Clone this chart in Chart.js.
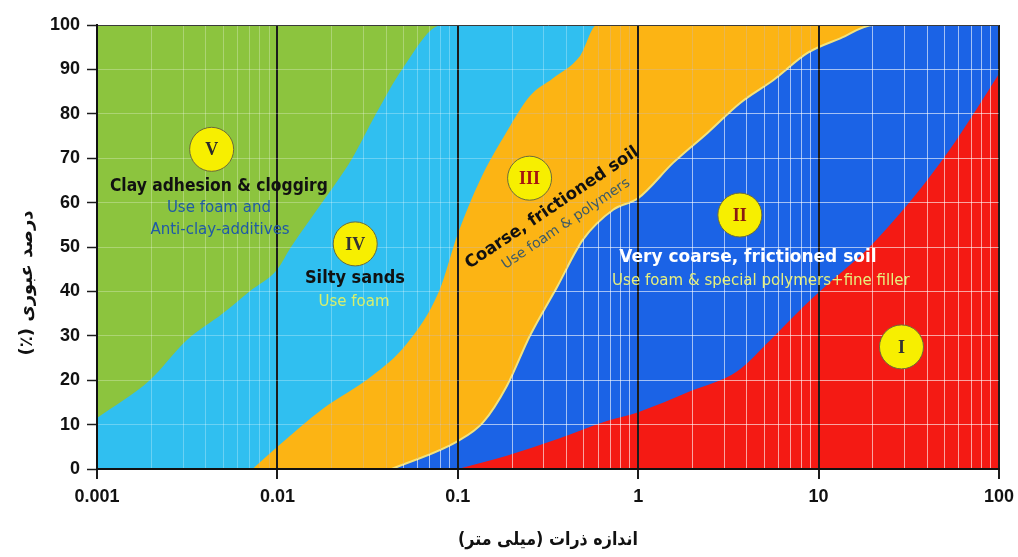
<!DOCTYPE html>
<html>
<head>
<meta charset="utf-8">
<script src="https://cdn.jsdelivr.net/npm/chart.js@4/dist/chart.umd.min.js"></script>
<style>
  html, body { margin: 0; padding: 0; background: #ffffff; }
  #wrap { width: 1018px; height: 557px; }
</style>
</head>
<body>
<div id="wrap"><canvas id="chart" width="1018" height="557"></canvas></div>
<script>
// Grain size (mm) on a log axis, percent passing on the vertical axis.
const decadeValues = [0.001, 0.01, 0.1, 1, 10, 100];
const decadeLabels = ['0.001', '0.01', '0.1', '1', '10', '100'];
const percentMin = 0;
const percentMax = 100;
const percentStep = 10;

// Upper edge of the chart (zone V fills everything above the first boundary)
const topEdgeX = [0.001, 100];
const topEdgeY = [100, 100];

// Boundary between zone V (clay) and zone IV (silty sands)
const boundaryVX = [0.001, 0.00196, 0.00314, 0.00497, 0.0070, 0.0100, 0.0119, 0.0177, 0.0260, 0.0352, 0.0491, 0.0817, 100];
const boundaryVY = [11.5, 20, 29, 35, 40, 45, 50, 60, 70, 80, 90, 100, 100];

// Boundary between zone IV and zone III (coarse soil)
const boundaryIVX = [0.00728, 0.0100, 0.0178, 0.0335, 0.0516, 0.0786, 0.100, 0.1325, 0.187, 0.251, 0.337, 0.476, 0.59, 100];
const boundaryIVY = [0, 5, 13.5, 21, 28, 40, 53, 65, 76, 84, 88, 93, 100, 100];

// Boundary between zone III and zone II (very coarse soil)
const boundaryIIIX = [0.0431, 0.100, 0.138, 0.187, 0.251, 0.355, 0.495, 0.726, 1.0, 1.565, 2.42, 3.69, 5.62, 8.68, 13.2, 20.2, 100];
const boundaryIIIY = [0, 6.3, 10.5, 18.7, 30, 41, 51.7, 58.4, 61, 69, 75.7, 82.5, 87.6, 93.7, 97, 100, 100];

// Boundary between zone II and zone I
const boundaryIIX = [0.100, 0.187, 0.354, 0.67, 1.0, 1.94, 3.54, 5.39, 8.2, 12.3, 18.1, 24.9, 36.5, 53.5, 73.6, 100];
const boundaryIIY = [0, 3, 6.7, 10.8, 12.8, 17.5, 22, 29, 36.5, 43, 49, 55, 63, 72, 80.5, 89];

const xTitle = 'اندازه ذرات (میلی متر)';
const yTitle = 'درصد عبوری (٪)';

const zoneColors = {
  V: '#8cc43e',
  IV: '#30bff0',
  III: '#fcb414',
  II: '#1b63e6',
  I: '#f41a14'
};

// Zone markers and captions, placed in data coordinates
const zoneBadges = [
  { text: 'V',   x: 0.00432, y: 72,   color: '#2a2a2a' },
  { text: 'IV',  x: 0.027,   y: 50.7, color: '#333333' },
  { text: 'III', x: 0.25,    y: 65.5, color: '#a5140f' },
  { text: 'II',  x: 3.66,    y: 57.2, color: '#8b1a10' },
  { text: 'I',   x: 28.8,    y: 27.5, color: '#333333' }
];

const zoneCaptions = [
  { text: 'Clay adhesion & cloggirg', x: 0.00474, y: 63.7, font: 'bold 17px "DejaVu Sans"', color: '#111111', w: 218, rot: 0 },
  { text: 'Use foam and', x: 0.00474, y: 58.8, font: '15px "DejaVu Sans"', color: '#1f5aa6', w: 106, rot: 0 },
  { text: 'Anti-clay-additives', x: 0.00481, y: 53.8, font: '15px "DejaVu Sans"', color: '#1f5aa6', w: 150, rot: 0 },
  { text: 'Silty sands', x: 0.0269, y: 42.8, font: 'bold 17px "DejaVu Sans"', color: '#111111', w: 100, rot: 0 },
  { text: 'Use foam', x: 0.0266, y: 37.6, font: '15px "DejaVu Sans"', color: '#d8ef6c', w: 76, rot: 0 },
  { text: 'Coarse, frictioned soil', x: 0.3326, y: 58.8, font: 'bold 17px "DejaVu Sans"', color: '#111111', w: 205, rot: -34 },
  { text: 'Use foam & polymers', x: 0.398, y: 55.2, font: '14px "DejaVu Sans"', color: '#3d5a66', w: 162, rot: -34 },
  { text: 'Very coarse, frictioned soil', x: 4.06, y: 47.7, font: 'bold 17px "DejaVu Sans"', color: '#ffffff', w: 273, rot: 0 },
  { text: 'Use foam & special polymers+fine filler', x: 4.79, y: 42.3, font: '15px "DejaVu Sans"', color: '#e6f07e', w: 302, rot: 0 }
];

function toPoints(xs, ys) {
  return xs.map((x, i) => ({ x: x, y: ys[i] }));
}

function isDecade(v) {
  return decadeValues.some(d => Math.abs(Math.log10(v) - Math.log10(d)) < 1e-6);
}

function decadeLabel(v) {
  const i = decadeValues.findIndex(d => Math.abs(Math.log10(v) - Math.log10(d)) < 1e-6);
  return i >= 0 ? decadeLabels[i] : '';
}

// Vertical grid: every integer multiple inside each decade
const xGridValues = [];
decadeValues.forEach((d, i) => {
  if (i === decadeValues.length - 1) { xGridValues.push(d); return; }
  for (let k = 1; k <= 9; k++) xGridValues.push(Number((d * k).toPrecision(6)));
});

function zoneDataset(label, xs, ys, color, order, extra) {
  return Object.assign({
    label: label,
    data: toPoints(xs, ys),
    parsing: false,
    fill: 'start',
    backgroundColor: color,
    borderColor: color,
    borderWidth: 0,
    pointRadius: 0,
    pointHoverRadius: 0,
    cubicInterpolationMode: 'monotone',
    order: order
  }, extra || {});
}

// Adds the region below a zone boundary line to the current path
function addRegionBelow(ctx, chart, datasetIndex) {
  const meta = chart.getDatasetMeta(datasetIndex);
  const pts = meta.data;
  const area = chart.chartArea;
  meta.dataset.path(ctx);
  ctx.lineTo(pts[pts.length - 1].x, area.bottom);
  ctx.lineTo(pts[0].x, area.bottom);
  ctx.closePath();
}

// Minor grid lines as seen through a given zone
function strokeMinorGrid(ctx, chart, color) {
  const xs = chart.scales.x, ys = chart.scales.y, area = chart.chartArea;
  const align = (p) => Math.round(p - 0.5) + 0.5;
  ctx.strokeStyle = color;
  ctx.lineWidth = 1;
  ctx.beginPath();
  xGridValues.forEach(v => {
    if (isDecade(v)) return;
    const px = align(xs.getPixelForValue(v));
    ctx.moveTo(px, area.top);
    ctx.lineTo(px, area.bottom);
  });
  for (let v = percentMin + percentStep; v < percentMax; v += percentStep) {
    const py = align(ys.getPixelForValue(v));
    ctx.moveTo(area.left, py);
    ctx.lineTo(area.right, py);
  }
  ctx.stroke();
}

const zoneGridTint = {
  id: 'zoneGridTint',
  afterDatasetsDraw(chart) {
    const { ctx, chartArea: area } = chart;
    // coarse zone III: darker lines
    ctx.save();
    ctx.beginPath();
    ctx.rect(area.left, area.top, area.right - area.left, area.bottom - area.top);
    ctx.clip();
    ctx.beginPath();
    addRegionBelow(ctx, chart, 2);
    addRegionBelow(ctx, chart, 3);
    ctx.clip('evenodd');
    strokeMinorGrid(ctx, chart, 'rgba(175,105,0,0.35)');
    ctx.restore();
    // zones II and I: bright white lines
    ctx.save();
    ctx.beginPath();
    ctx.rect(area.left, area.top, area.right - area.left, area.bottom - area.top);
    ctx.clip();
    ctx.beginPath();
    addRegionBelow(ctx, chart, 3);
    ctx.clip();
    strokeMinorGrid(ctx, chart, 'rgba(255,255,255,0.45)');
    ctx.restore();
  }
};

const axisTitles = {
  id: 'axisTitles',
  afterDraw(chart) {
    const { ctx, chartArea } = chart;
    ctx.save();
    ctx.direction = 'rtl';
    ctx.fillStyle = '#111111';
    ctx.font = 'bold 18px "DejaVu Sans"';
    ctx.textAlign = 'center';
    ctx.textBaseline = 'middle';
    ctx.fillText(xTitle, (chartArea.left + chartArea.right) / 2, 540, 180);
    ctx.translate(27, 283);
    ctx.rotate(-Math.PI / 2);
    ctx.fillText(yTitle, 0, 0, 172);
    ctx.restore();
  }
};

const zoneLabels = {
  id: 'zoneLabels',
  afterDraw(chart) {
    const { ctx } = chart;
    const xs = chart.scales.x, ys = chart.scales.y;
    ctx.save();
    ctx.textAlign = 'center';
    ctx.textBaseline = 'middle';
    zoneCaptions.forEach(c => {
      const px = xs.getPixelForValue(c.x), py = ys.getPixelForValue(c.y);
      ctx.save();
      ctx.translate(px, py);
      ctx.rotate(c.rot * Math.PI / 180);
      ctx.font = c.font;
      ctx.fillStyle = c.color;
      ctx.fillText(c.text, 0, 0, c.w);
      ctx.restore();
    });
    zoneBadges.forEach(b => {
      const px = xs.getPixelForValue(b.x), py = ys.getPixelForValue(b.y);
      ctx.beginPath();
      ctx.arc(px, py, 22, 0, Math.PI * 2);
      ctx.fillStyle = '#f7ef00';
      ctx.fill();
      ctx.lineWidth = 1;
      ctx.strokeStyle = '#6b6b3a';
      ctx.stroke();
      ctx.font = 'bold 18px "Liberation Serif"';
      ctx.fillStyle = b.color;
      ctx.fillText(b.text, px, py + 1);
    });
    ctx.restore();
  }
};

const minorGrid = 'rgba(255,255,255,0.28)';

new Chart(document.getElementById('chart'), {
  type: 'line',
  data: {
    datasets: [
      zoneDataset('V', topEdgeX, topEdgeY, zoneColors.V, 5, { cubicInterpolationMode: 'default', tension: 0 }),
      zoneDataset('IV', boundaryVX, boundaryVY, zoneColors.IV, 4),
      zoneDataset('III', boundaryIVX, boundaryIVY, zoneColors.III, 3),
      zoneDataset('II', boundaryIIIX, boundaryIIIY, zoneColors.II, 2, { borderColor: '#f2e27c', borderWidth: 2 }),
      zoneDataset('I', boundaryIIX, boundaryIIY, zoneColors.I, 1)
    ]
  },
  options: {
    responsive: false,
    devicePixelRatio: 1,
    animation: false,
    layout: { padding: { left: 0, right: 19, top: 25, bottom: 0 } },
    plugins: {
      legend: { display: false },
      tooltip: { enabled: false },
      title: { display: false }
    },
    scales: {
      x: {
        type: 'logarithmic',
        position: 'bottom',
        min: decadeValues[0],
        max: decadeValues[decadeValues.length - 1],
        afterBuildTicks: (scale) => {
          scale.ticks = xGridValues.map(v => ({ value: v, major: isDecade(v) }));
        },
        afterFit: (scale) => {
          scale.height = 88;
          scale.paddingLeft = 0;
          scale.paddingRight = 0;
        },
        ticks: {
          autoSkip: false,
          maxRotation: 0,
          padding: 7,
          color: '#111111',
          font: { family: '"Liberation Sans", Arial, sans-serif', size: 18, weight: 'bold' },
          callback: (value) => decadeLabel(value)
        },
        grid: {
          z: 1,
          drawTicks: true,
          tickLength: 10,
          color: (ctx) => (ctx.tick && isDecade(ctx.tick.value)) ? '#1c1c1c' : minorGrid,
          lineWidth: (ctx) => (ctx.tick && isDecade(ctx.tick.value)) ? 2 : 1,
          tickColor: (ctx) => (ctx.tick && isDecade(ctx.tick.value)) ? '#1c1c1c' : 'rgba(0,0,0,0)',
          tickWidth: 2
        },
        border: { display: true, color: '#111111', width: 2, z: 2 }
      },
      y: {
        type: 'linear',
        min: percentMin,
        max: percentMax,
        afterFit: (scale) => { scale.width = 97; },
        ticks: {
          stepSize: percentStep,
          padding: 7,
          color: '#111111',
          font: { family: '"Liberation Sans", Arial, sans-serif', size: 18, weight: 'bold' }
        },
        grid: {
          z: 1,
          tickLength: 10,
          color: (ctx) => (ctx.tick && ctx.tick.value === percentMax) ? '#3a3a3a' : minorGrid,
          tickColor: '#1c1c1c',
          tickWidth: 1.5
        },
        border: { display: true, color: '#111111', width: 2, z: 2 }
      }
    }
  },
  plugins: [zoneGridTint, axisTitles, zoneLabels]
});
</script>
</body>
</html>
